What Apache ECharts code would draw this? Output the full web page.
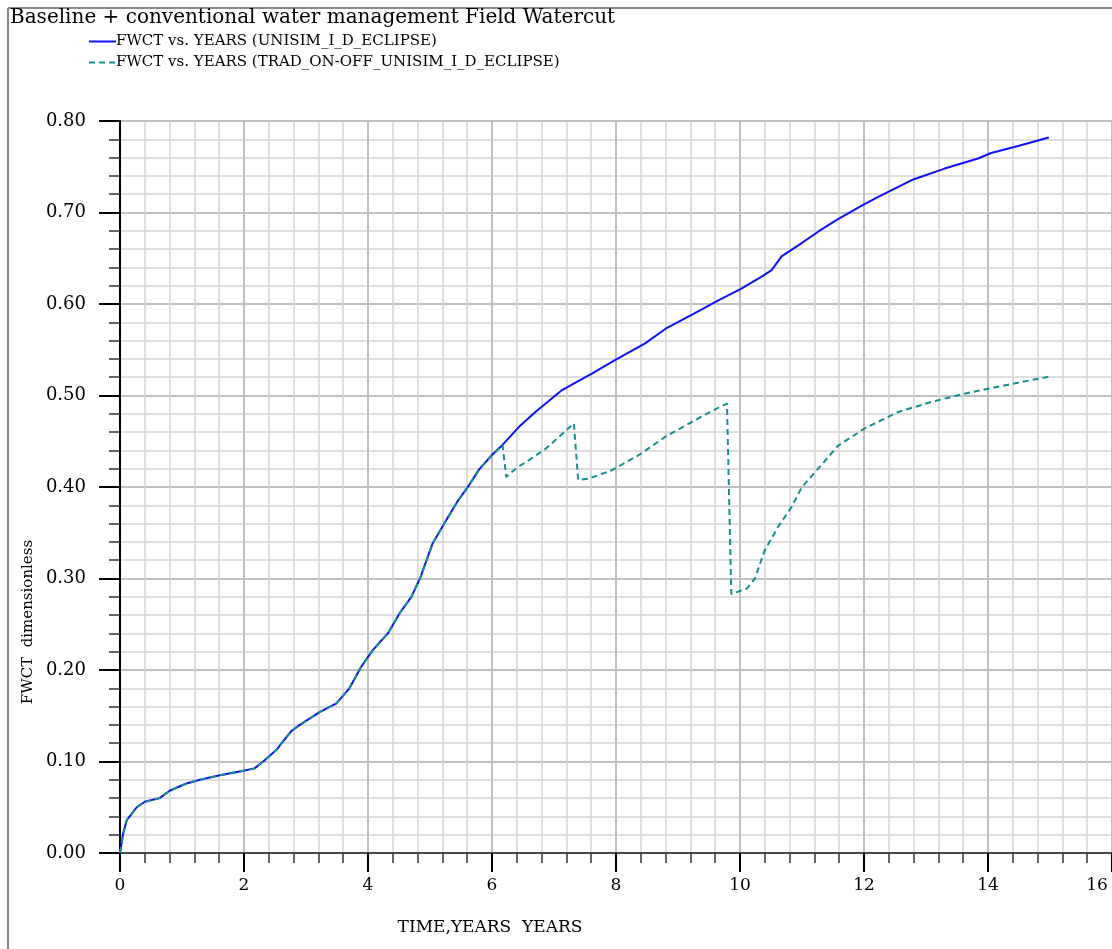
<!DOCTYPE html>
<html>
<head>
<meta charset="utf-8">
<title>Field Watercut</title>
<script src="https://cdn.jsdelivr.net/npm/echarts@6/dist/echarts.min.js"></script>
<style>
  html, body { margin: 0; padding: 0; background: #ffffff; }
  #chart { width: 1112px; height: 949px; }
</style>
</head>
<body>
<div id="chart"></div>
<script>
// Field watercut (FWCT) against time in years for two simulation runs.
const chartTitle = 'Baseline + conventional water management Field Watercut';
const seriesNames = [
  'FWCT vs. YEARS (UNISIM_I_D_ECLIPSE)',
  'FWCT vs. YEARS (TRAD_ON-OFF_UNISIM_I_D_ECLIPSE)'
];
const xAxisTitle = 'TIME,YEARS  YEARS';
const yAxisTitle = 'FWCT  dimensionless';

// Base case run
const baseYears = [0, 0.05, 0.11, 0.27, 0.40, 0.64, 0.80, 1.07, 1.29, 1.61, 1.93, 2.17, 2.31, 2.52, 2.63,
  2.76, 2.90, 3.22, 3.49, 3.70, 3.89, 4.08, 4.32, 4.51, 4.70, 4.85, 5.04, 5.23, 5.44, 5.63, 5.79, 6.00,
  6.17, 6.44, 6.70, 7.13, 7.61, 7.99, 8.47, 8.80, 9.22, 9.65, 10.00, 10.35, 10.51, 10.67, 10.94, 11.26,
  11.56, 12.00, 12.23, 12.77, 13.30, 13.84, 14.05, 14.50, 14.98];
const baseFwct = [0, 0.021, 0.036, 0.050, 0.056, 0.060, 0.068, 0.076, 0.080, 0.085, 0.089, 0.0925, 0.100,
  0.1125, 0.122, 0.133, 0.140, 0.154, 0.1635, 0.180, 0.2035, 0.222, 0.240, 0.262, 0.280, 0.302, 0.338,
  0.360, 0.384, 0.402, 0.419, 0.435, 0.446, 0.466, 0.482, 0.506, 0.524, 0.539, 0.557, 0.573, 0.588,
  0.604, 0.616, 0.630, 0.637, 0.652, 0.664, 0.679, 0.692, 0.709, 0.717, 0.7355, 0.748, 0.759, 0.765,
  0.773, 0.782];

// On-off water management run
const tradYears = [0, 0.05, 0.11, 0.27, 0.40, 0.64, 0.80, 1.07, 1.29, 1.61, 1.93, 2.17, 2.31, 2.52, 2.63,
  2.76, 2.90, 3.22, 3.49, 3.70, 3.89, 4.08, 4.32, 4.51, 4.70, 4.85, 5.04, 5.23, 5.44, 5.63, 5.79, 6.00,
  6.17, 6.23, 6.40, 6.60, 6.87, 7.10, 7.32, 7.39, 7.56, 7.94, 8.37, 8.80, 9.22, 9.63, 9.79, 9.86, 10.11,
  10.24, 10.40, 10.62, 10.83, 11.00, 11.26, 11.58, 12.01, 12.55, 13.09, 13.62, 14.16, 14.98];
const tradFwct = [0, 0.021, 0.036, 0.050, 0.056, 0.060, 0.068, 0.076, 0.080, 0.085, 0.089, 0.0925, 0.100,
  0.1125, 0.122, 0.133, 0.140, 0.154, 0.1635, 0.180, 0.2035, 0.222, 0.240, 0.262, 0.280, 0.302, 0.338,
  0.360, 0.384, 0.402, 0.419, 0.435, 0.446, 0.411, 0.421, 0.4295, 0.442, 0.456, 0.4696, 0.4077, 0.409,
  0.4186, 0.435, 0.455, 0.471, 0.486, 0.491, 0.283, 0.289, 0.300, 0.331, 0.357, 0.378, 0.400, 0.420,
  0.445, 0.464, 0.482, 0.493, 0.502, 0.5096, 0.5206];

const xTicks = { min: 0, max: 16, interval: 2 };
const yTicks = { min: 0, max: 0.8, interval: 0.1 };

const FONT = 'DejaVu Serif';
const zip = (xs, ys) => xs.map((x, i) => [x, ys[i]]);

const chart = echarts.init(document.getElementById('chart'), null, { renderer: 'canvas' });

chart.setOption({
  animation: false,
  backgroundColor: '#ffffff',
  grid: { left: 120, top: 121, right: -2, bottom: 96, containLabel: false },
  legend: {
    orient: 'vertical',
    left: 88,
    top: 34,
    padding: 0,
    itemWidth: 27,
    itemHeight: 15,
    itemGap: 6,
    itemStyle: { opacity: 0 },
    textStyle: { fontFamily: FONT, fontSize: 15, color: '#000', lineHeight: 15, padding: [0, 0, 0, -5] },
    data: seriesNames
  },
  xAxis: {
    type: 'value',
    min: xTicks.min, max: xTicks.max, interval: xTicks.interval,
    axisLine: { show: true, onZero: false, lineStyle: { color: '#4a4a4a', width: 2 } },
    axisTick: { show: true, length: 19, lineStyle: { color: '#000', width: 2 } },
    minorTick: { show: true, splitNumber: 5, length: 10, lineStyle: { color: '#333', width: 1.5 } },
    splitLine: { show: true, lineStyle: { color: '#c0c0c0', width: 2 } },
    minorSplitLine: { show: true, lineStyle: { color: '#d4d4d4', width: 1.5 } },
    axisLabel: {
      fontFamily: FONT, fontSize: 17, color: '#000', margin: 24,
      formatter: v => v === xTicks.max ? '{end|' + v + '}' : String(v),
      rich: { end: { fontFamily: FONT, fontSize: 17, color: '#000', padding: [0, 30, 0, 0] } }
    }
  },
  yAxis: {
    type: 'value',
    min: yTicks.min, max: yTicks.max, interval: yTicks.interval,
    axisLine: { show: true, onZero: false, lineStyle: { color: '#000', width: 2 } },
    axisTick: { show: true, length: 21, lineStyle: { color: '#000', width: 2 } },
    minorTick: { show: true, splitNumber: 5, length: 11, lineStyle: { color: '#333', width: 1.5 } },
    splitLine: { show: true, lineStyle: { color: '#c0c0c0', width: 2 } },
    minorSplitLine: { show: true, lineStyle: { color: '#d4d4d4', width: 1.5 } },
    axisLabel: {
      fontFamily: FONT, fontSize: 18, color: '#000', margin: 34,
      formatter: v => v.toFixed(2)
    }
  },
  series: [
    {
      name: seriesNames[0],
      type: 'line',
      data: zip(baseYears, baseFwct),
      showSymbol: false,
      symbol: 'none',
      smooth: false,
      lineStyle: { color: '#1010f5', width: 2 },
      itemStyle: { color: '#1010f5' },
      z: 3
    },
    {
      name: seriesNames[1],
      type: 'line',
      data: zip(tradYears, tradFwct),
      showSymbol: false,
      symbol: 'none',
      smooth: false,
      lineStyle: { color: '#138f8f', width: 2, type: [6, 4] },
      itemStyle: { color: '#138f8f' },
      z: 4
    }
  ],
  graphic: [
    // page frame
    { type: 'line', shape: { x1: 8, y1: 8, x2: 1112, y2: 8 }, style: { stroke: '#8a8a8a', lineWidth: 2 } },
    { type: 'line', shape: { x1: 8, y1: 8, x2: 8, y2: 949 }, style: { stroke: '#8a8a8a', lineWidth: 2 } },
    {
      type: 'text', left: 10, top: 8,
      style: { text: chartTitle, fontFamily: FONT, fontSize: 20, fill: '#000' }
    },
    {
      type: 'text', x: 490, y: 928,
      style: { text: xAxisTitle, fontFamily: FONT, fontSize: 17, fill: '#000', align: 'center', verticalAlign: 'middle' }
    },
    {
      type: 'text', x: 28, y: 622, rotation: Math.PI / 2,
      style: { text: yAxisTitle, fontFamily: FONT, fontSize: 15, fill: '#000', align: 'center', verticalAlign: 'middle' }
    }
  ]
});
</script>
</body>
</html>
